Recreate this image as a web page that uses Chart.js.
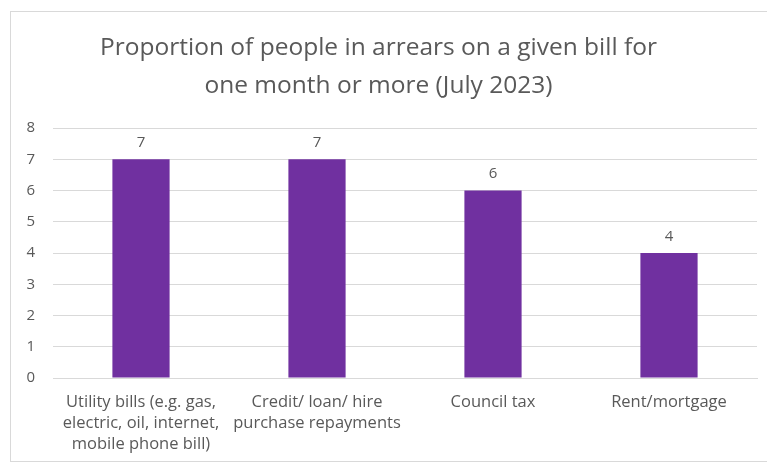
<!DOCTYPE html>
<html>
<head>
<meta charset="utf-8">
<script src="https://cdn.jsdelivr.net/npm/chart.js@4/dist/chart.umd.min.js"></script>
<style>
  html, body { margin: 0; padding: 0; background: #ffffff; }
  #wrap { position: relative; width: 767px; height: 468px; overflow: hidden; }
  #frame { position: absolute; left: 10px; top: 11px; width: 780px; height: 451px;
           border: 1px solid #d9d9d9; box-sizing: border-box; }
  canvas { position: absolute; left: 0; top: 0; }
</style>
</head>
<body>
<div id="wrap">
  <div id="frame"></div>
  <canvas id="chart" width="767" height="468"></canvas>
</div>
<script>
// Bill types (multi-line labels) and the share of people in arrears on each
const categories = [
  ['Utility bills (e.g. gas,', 'electric, oil, internet,', 'mobile phone bill)'],
  ['Credit/ loan/ hire', 'purchase repayments'],
  ['Council tax'],
  ['Rent/mortgage']
];
const arrearsValues = [7, 7, 6, 4];
const yTicks = [0, 1, 2, 3, 4, 5, 6, 7, 8];

const TEXT = '#595959';
const FONT = "'Open Sans', 'Liberation Sans', sans-serif";

// Writes each bar's value just above it
const valueLabels = {
  id: 'valueLabels',
  afterDatasetsDraw(chart) {
    const ctx = chart.ctx;
    const meta = chart.getDatasetMeta(0);
    ctx.save();
    ctx.fillStyle = TEXT;
    ctx.font = '15px ' + FONT;
    ctx.textAlign = 'center';
    ctx.textBaseline = 'bottom';
    meta.data.forEach((bar, i) => {
      ctx.fillText(String(arrearsValues[i]), bar.x, bar.y - 9);
    });
    ctx.restore();
  }
};

new Chart(document.getElementById('chart'), {
  type: 'bar',
  data: {
    labels: categories,
    datasets: [{
      data: arrearsValues,
      backgroundColor: '#7030a0',
      borderWidth: 0,
      barPercentage: 1,
      categoryPercentage: 0.325
    }]
  },
  options: {
    responsive: false,
    animation: false,
    layout: { padding: { left: 0, right: 10, top: 11, bottom: 0 } },
    plugins: {
      legend: { display: false },
      tooltip: { enabled: false },
      title: {
        display: true,
        text: ['Proportion of people in arrears on a given bill for', 'one month or more (July 2023)'],
        color: TEXT,
        font: { family: FONT, size: 24.5, weight: 'normal', lineHeight: '38px' },
        padding: { top: 18, bottom: 23 }
      }
    },
    scales: {
      x: {
        grid: { display: false, drawTicks: false },
        border: { color: '#d9d9d9', width: 1 },
        ticks: {
          color: TEXT,
          font: { family: FONT, size: 16.5, lineHeight: '21px' },
          padding: 14,
          maxRotation: 0,
          autoSkip: false
        },
        afterFit(scale) { scale.height = 90; }
      },
      y: {
        min: 0,
        max: 8,
        afterBuildTicks(scale) { scale.ticks = yTicks.map(v => ({ value: v })); },
        grid: { color: '#d9d9d9', drawTicks: false },
        border: { display: false },
        ticks: {
          color: TEXT,
          font: { family: FONT, size: 15 },
          padding: 18
        },
        afterFit(scale) { scale.width = 53; }
      }
    }
  },
  plugins: [valueLabels]
});
</script>
</body>
</html>
